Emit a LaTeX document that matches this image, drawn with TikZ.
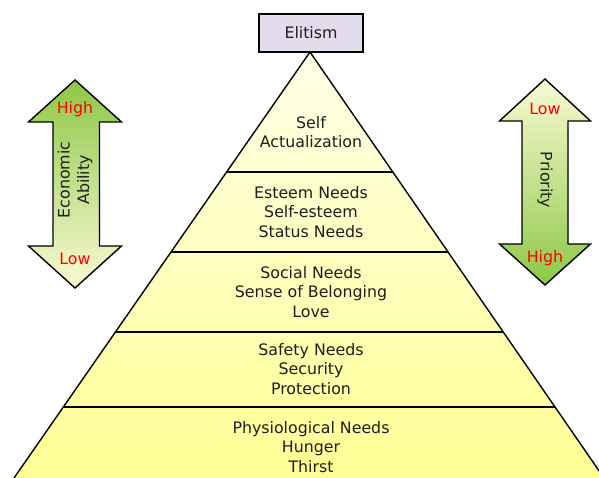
\documentclass[tikz,border=0pt]{standalone}
\usepackage{fontspec}
\setmainfont{DejaVu Sans}
\definecolor{paleyel}{RGB}{255,255,232}
\definecolor{deepyel}{RGB}{255,255,148}
\definecolor{leafgreen}{RGB}{140,200,70}
\definecolor{cream}{RGB}{250,250,212}
\definecolor{lilac}{RGB}{226,220,236}
\definecolor{inkgray}{RGB}{30,30,30}

\begin{document}
\begin{tikzpicture}[x=1pt,y=1pt,line join=miter]

  \useasboundingbox (0,0) rectangle (599,478);

  \coordinate (apex) at (310,426);
  \coordinate (bl) at (14,0);
  \coordinate (br) at (604,0);

  % pyramid body with bands
  \begin{scope}
    \clip (bl) -- (apex) -- (br) -- cycle;
    \shade[top color=paleyel,bottom color=deepyel] (0,0) rectangle (599,426);
    \begin{scope}[every path/.style={draw,line width=1.4pt}]
      \path (0,306) -- (599,306);
      \path (0,226) -- (599,226);
      \path (0,146) -- (599,146);
      \path (0,71) -- (599,71);
    \end{scope}
  \end{scope}
  \draw[line width=1.4pt] (bl) -- (apex) -- (br);

  % top box
  \draw[line width=2pt,fill=lilac] (259,426) rectangle (363,464);
  \node[text=inkgray,font=\fontsize{15.8}{19.5}\selectfont] (elite) at (311,445) {Elitism};

  % side arrows
  \begin{scope}[every path/.style={draw,line width=1.4pt}]
    \path[top color=leafgreen,bottom color=cream]
      (75,398) -- (121.5,356) -- (99.5,356) -- (99.5,232) -- (121.5,232)
      -- (75,190) -- (28.5,232) -- (53,232) -- (53,356) -- (28.5,356) -- cycle;
    \path[top color=cream,bottom color=leafgreen]
      (545,399) -- (590.5,357) -- (568,357) -- (568,234) -- (590.5,234)
      -- (545,193) -- (499.5,234) -- (522,234) -- (522,357) -- (499.5,357) -- cycle;
  \end{scope}

  \begin{scope}[every node/.style={text=red,font=\fontsize{15.8}{19.5}\selectfont}]
    \node (ehigh) at (75,369) {High};
    \node (elow) at (75,219) {Low};
    \node (plow) at (545,369) {Low};
    \node (phigh) at (545,220) {High};
  \end{scope}

  \begin{scope}[every node/.style={text=inkgray,align=center,font=\fontsize{15.8}{19.5}\selectfont}]
    \node[rotate=90] (econ) at (75,298) {Economic\\Ability};
    \node[rotate=-90] (prio) at (545,298) {Priority};

    \node (self) at (311,346) {Self\\Actualization};
    \node (esteem) at (311,266) {Esteem Needs\\Self-esteem\\Status Needs};
    \node (social) at (311,186) {Social Needs\\Sense of Belonging\\Love};
    \node (safety) at (311,109) {Safety Needs\\Security\\Protection};
    \node (physio) at (311,31) {Physiological Needs\\Hunger\\Thirst};
  \end{scope}

\end{tikzpicture}
\end{document}
